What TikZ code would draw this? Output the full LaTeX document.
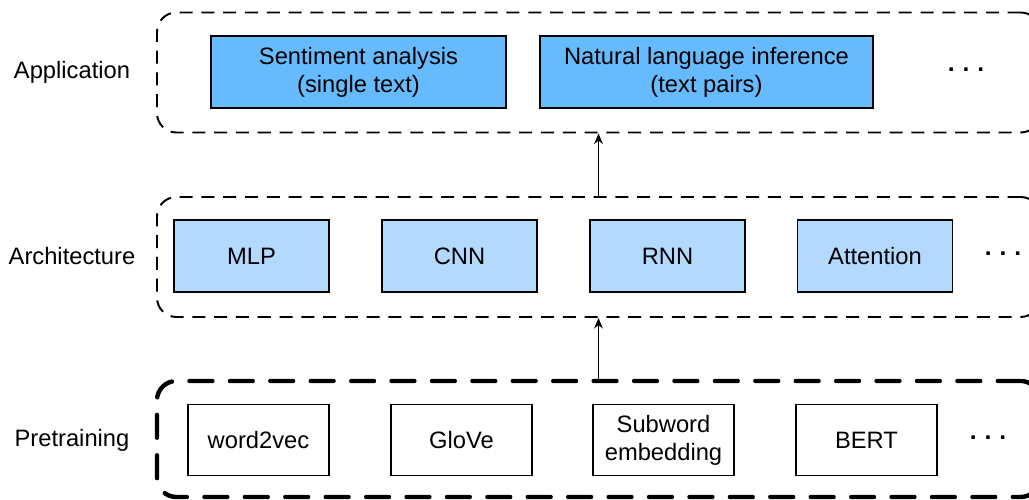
\documentclass[tikz,border=0pt]{standalone}
\usepackage{fontspec}
\setmainfont{Liberation Sans}
\definecolor{appblue}{RGB}{102, 187, 255}
\definecolor{archblue}{RGB}{179, 217, 255}
\usetikzlibrary{arrows.meta, positioning}

\begin{document}
\begin{tikzpicture}[
  every node/.style={font=\fontsize{13.5}{16}\selectfont},
  layer/.style={draw, rounded corners=11pt, line width=1.1pt, dash pattern=on 7.4pt off 5pt, minimum width=17.66cm, minimum height=2.4cm},
  thicklayer/.style={layer, line width=2.5pt, dash pattern=on 13pt off 10pt, line cap=round},
  mbox/.style={draw, line width=1.1pt, align=center, minimum height=1.44cm, inner sep=2pt},
  moredots/.style={font=\fontsize{14}{16}\selectfont\bfseries},
  uparrow/.style={-{Stealth[length=6pt, width=5pt]}, line width=1.1pt}
]
  \useasboundingbox (0,0) rectangle (20.58,10);
  \clip (0,0) rectangle (20.58,10);

  % layers
  \node[layer] (app) at (11.97, 8.55) {};
  \node[layer] (arch) at (11.97, 4.86) {};
  \node[thicklayer, minimum height=2.32cm] (pre) at (11.97, 1.22) {};

  \node (applabel) at (1.44, 8.56) {Application};
  \node (archlabel) at (1.44, 4.88) {Architecture};
  \node (prelabel) at (1.44, 1.2) {Pretraining};

  % application
  \node[mbox, fill=appblue, minimum width=5.9cm] (sent) at (7.17, 8.56) {
    Sentiment analysis\\
    (single text)
  };
  \node[mbox, fill=appblue, minimum width=6.66cm] (nli) at (14.13, 8.56) {
    Natural language inference\\
    (text pairs)
  };
  \node[moredots] (appdots) at (19.32, 8.6) {.\hspace{4.5pt}.\hspace{4.5pt}.};

  % architecture
  \node[mbox, fill=archblue, minimum width=3.1cm] (mlp) at (5.03, 4.88) {MLP};
  \node[mbox, fill=archblue, minimum width=3.1cm] (cnn) at (9.19, 4.88) {CNN};
  \node[mbox, fill=archblue, minimum width=3.1cm] (rnn) at (13.35, 4.88) {RNN};
  \node[mbox, fill=archblue, minimum width=3.1cm] (attn) at (17.5, 4.88) {Attention};
  \node[moredots] (archdots) at (20.06, 4.93) {.\hspace{4.5pt}.\hspace{4.5pt}.};

  % pretraining
  \node[mbox, minimum width=2.82cm, minimum height=1.42cm] (w2v) at (5.17, 1.2) {word2vec};
  \node[mbox, minimum width=2.82cm, minimum height=1.42cm] (glove) at (9.23, 1.2) {GloVe};
  \node[mbox, minimum width=2.82cm, minimum height=1.42cm] (subword) at (13.27, 1.2) {
    Subword\\
    embedding
  };
  \node[mbox, minimum width=2.82cm, minimum height=1.42cm] (bert) at (17.33, 1.2) {BERT};
  \node[moredots] (predots) at (19.76, 1.25) {.\hspace{4.5pt}.\hspace{4.5pt}.};

  \draw[uparrow] (pre.north) -- (arch.south);
  \draw[uparrow] (arch.north) -- (app.south);
\end{tikzpicture}
\end{document}
